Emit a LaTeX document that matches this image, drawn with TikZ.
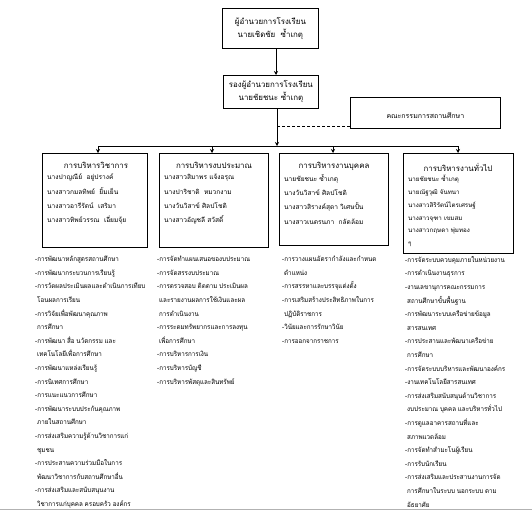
\documentclass[tikz,border=0pt]{standalone}
\usepackage{fontspec}
\newfontfamily\thaifont[Script=Thai]{Loma}
\newfontfamily\thailst[Script=Thai,WordSpace=0.85,FakeStretch=0.93]{Loma}
\usetikzlibrary{arrows.meta}
\begin{document}
\begin{tikzpicture}[x=1pt,y=-1pt,
  box/.style={draw, line width=0.8pt, inner sep=0, anchor=north west},
  ttl/.style={font=\thaifont\fontsize{7.9}{13}\selectfont, inner sep=0, align=center},
  nm/.style={font=\thaifont\fontsize{6.6}{14.3}\selectfont, inner sep=0, align=left, anchor=north west},
  nmsmall/.style={font=\thaifont\fontsize{6.2}{12.8}\selectfont, inner sep=0, align=left, anchor=north west},
  lst/.style={font=\thailst\fontsize{6.7}{13.6}\selectfont, inner sep=0, align=left, anchor=north west},
  arr/.style={-{Stealth[length=4pt,width=4pt]}, line width=0.8pt},
  ln/.style={line width=0.8pt},
  dsh/.style={line width=0.8pt, dash pattern=on 3pt off 2pt}]
\useasboundingbox (0,0) rectangle (532,512);
\fill[white] (0,0) rectangle (532,512);

% top boxes
\node[box, minimum width=96pt, minimum height=40pt] (dir) at (222,8) {};
\node[ttl] (dirT) at (dir.center) {ผู้อำนวยการโรงเรียน\\นายเชิดชัย\ \ ซ้ำเกตุ};
\node[box, minimum width=95pt, minimum height=33pt] (vice) at (223,75) {};
\node[ttl] (viceT) at (vice.center) {รองผู้อำนวยการโรงเรียน\\นายชัยชนะ ซ้ำเกตุ};
\node[box, minimum width=150pt, minimum height=31pt] (com) at (350,97) {};
\node[ttl, font=\thaifont\fontsize{7}{12}\selectfont] (comT) at ([yshift=-3pt]com.center) {คณะกรรมการสถานศึกษา};

% department boxes
\node[box, minimum width=105pt, minimum height=94pt] (b1) at (42,153) {};
\node[box, minimum width=109pt, minimum height=94pt] (b2) at (159,153) {};
\node[box, minimum width=109pt, minimum height=92pt] (b3) at (279,153) {};
\node[box, minimum width=110pt, minimum height=100pt] (b4) at (403,153) {};

\coordinate (j0) at (277,146);
\coordinate (j1) at (98,146);
\coordinate (j2) at (212,146);
\coordinate (j3) at (333,146);
\coordinate (j4) at (458,146);
\coordinate (dj) at (277,126);

\draw[arr] (dir.south -| 276,0) -- (vice.north -| 276,0);
\draw[arr] (vice.south -| j0) -- (j0);
\draw[ln] (j1) -- (j4);
\draw[arr] (j1) -- (b1.north -| j1);
\draw[arr] (j2) -- (b2.north -| j2);
\draw[arr] (j3) -- (b3.north -| j3);
\draw[arr] (j4) -- (b4.north -| j4);
\draw[dsh] (com.west |- dj) -- (dj);

% box texts
\node[ttl] (t1) at (96,165) {การบริหารวิชาการ};
\node[nm] (n1) at (47,174) {นางปาญณีย์\ \ อยู่ปรางค์\\นางสาวกมลทิพย์\ \ ยิ้มเย็น\\นางสาวอารีรัตน์\ \ เสริมา\\นางสาวทิพย์วรรณ\ \ เอี่ยมจุ้ย};
\node[ttl] (t2) at (214,165) {การบริหารงบประมาณ};
\node[nm] (n2) at (164,174) {นางสาวสิมาพร แจ้งอรุณ\\นางปาริชาติ\ \ หมวกงาม\\นางวันวิสาข์ ศิลปโชติ\\นางสาวอัญชลี สวัสดิ์};
\node[ttl] (t3) at (334,166) {การบริหารงานบุคคล};
\node[nm] (n3) at (284,174) {นายชัยชนะ ซ้ำเกตุ\\นางวันวิสาข์ ศิลปโชติ\\นางสาวสิรางค์สุดา วิเศษปั้น\\นางสาวเนตรนภา\ \ กลัดล้อม};
\node[ttl] (t4) at (458,167) {การบริหารงานทั่วไป};
\node[nmsmall] (n4) at (408,175) {นายชัยชนะ ซ้ำเกตุ\\นายณัฐวุฒิ จันทนา\\นางสาวสิริรัตน์ไตรเศรษฐ์\\นางสาวจุฑา เขมสม\\นางสาวกฤษดา พุ่มทอง\\ๆ};

% lists
\begin{scope}
\clip (0,0) rectangle (532,509);
\node[lst] (l1) at (35,256) {-การพัฒนาหลักสูตรสถานศึกษา\\
-การพัฒนากระบวนการเรียนรู้\\
-การวัดผลประเมินผลและดำเนินการเทียบ\\
\hspace{2pt}โอนผลการเรียน\\
-การวิจัยเพื่อพัฒนาคุณภาพ\\
\hspace{2pt}การศึกษา\\
-การพัฒนา สื่อ นวัตกรรม และ\\
\hspace{2pt}เทคโนโลยีเพื่อการศึกษา\\
-การพัฒนาแหล่งเรียนรู้\\
-การนิเทศการศึกษา\\
-การแนะแนวการศึกษา\\
-การพัฒนาระบบประกันคุณภาพ\\
\hspace{2pt}ภายในสถานศึกษา\\
-การส่งเสริมความรู้ด้านวิชาการแก่\\
\hspace{2pt}ชุมชน\\
-การประสานความร่วมมือในการ\\
\hspace{2pt}พัฒนาวิชาการกับสถานศึกษาอื่น\\
-การส่งเสริมและสนับสนุนงาน\\
\hspace{2pt}วิชาการแก่บุคคล ครอบครัว องค์กร};
\node[lst] (l2) at (157,256) {-การจัดทำแผนเสนอของบประมาณ\\
-การจัดสรรงบประมาณ\\
-การตรวจสอบ ติดตาม ประเมินผล\\
\hspace{2pt}และรายงานผลการใช้เงินและผล\\
\hspace{2pt}การดำเนินงาน\\
-การระดมทรัพยากรและการลงทุน\\
\hspace{2pt}เพื่อการศึกษา\\
-การบริหารการเงิน\\
-การบริหารบัญชี\\
-การบริหารพัสดุและสินทรัพย์};
\node[lst] (l3) at (282,256) {-การวางแผนอัตรากำลังและกำหนด\\
\hspace{2pt}ตำแหน่ง\\
-การสรรหาและบรรจุแต่งตั้ง\\
-การเสริมสร้างประสิทธิภาพในการ\\
\hspace{2pt}ปฏิบัติราชการ\\
-วินัยและการรักษาวินัย\\
-การออกจากราชการ};
\node[lst] (l4) at (405,256) {-การจัดระบบควบคุมภายในหน่วยงาน\\
-การดำเนินงานธุรการ\\
-งานเลขานุการคณะกรรมการ\\
\hspace{2pt}สถานศึกษาขั้นพื้นฐาน\\
-การพัฒนาระบบเครือข่ายข้อมูล\\
\hspace{2pt}สารสนเทศ\\
-การประสานและพัฒนาเครือข่าย\\
\hspace{2pt}การศึกษา\\
-การจัดระบบบริหารและพัฒนาองค์กร\\
-งานเทคโนโลยีสารสนเทศ\\
-การส่งเสริมสนับสนุนด้านวิชาการ\\
\hspace{2pt}งบประมาณ บุคคล และบริหารทั่วไป\\
-การดูแลอาคารสถานที่และ\\
\hspace{2pt}สภาพแวดล้อม\\
-การจัดทำสำมะโนผู้เรียน\\
-การรับนักเรียน\\
-การส่งเสริมและประสานงานการจัด\\
\hspace{2pt}การศึกษาในระบบ นอกระบบ ตาม\\
\hspace{2pt}อัธยาศัย};
\end{scope}
\coordinate (bl) at (0,509.5);
\coordinate (br) at (532,509.5);
\draw[gray!60, line width=0.8pt] (bl) -- (br);
\end{tikzpicture}
\end{document}
